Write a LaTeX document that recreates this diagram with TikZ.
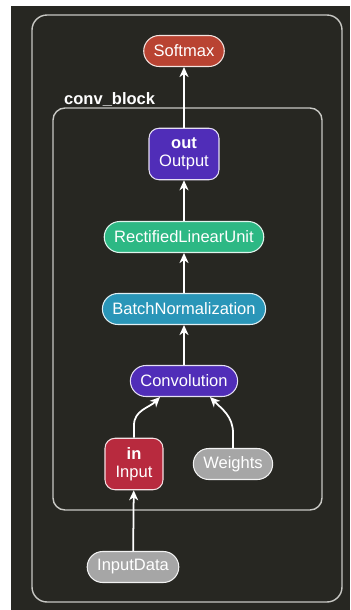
\documentclass[tikz,border=0pt]{standalone}
\usepackage{fontspec}
\setmainfont{Liberation Sans}
\usetikzlibrary{arrows.meta}
\definecolor{slate}{RGB}{39,39,34}
\definecolor{rim}{RGB}{200,200,196}
\definecolor{rust}{RGB}{185,67,50}
\definecolor{violet}{RGB}{80,45,184}
\definecolor{mint}{RGB}{45,184,132}
\definecolor{teal}{RGB}{42,150,184}
\definecolor{crimson}{RGB}{184,42,62}
\definecolor{ash}{RGB}{166,166,166}
\tikzset{
  >={Stealth[length=2mm,width=1.8mm,inset=0.6mm]},
  pill/.style={draw=white!85!#1,line width=0.6pt,fill=#1,text=white,
    rounded corners=0.31cm,minimum height=0.62cm,inner xsep=0.2cm,
    font=\fontsize{9.4}{11}\selectfont},
  pill/.default=ash,
  block/.style={draw=white!85!#1,line width=0.6pt,fill=#1,text=white,
    rounded corners=0.2cm,minimum height=1.03cm,align=center,
    font=\fontsize{9.4}{10.4}\selectfont},
  flow/.style={->,line width=1pt,draw=white},
  frame/.style={draw=rim,line width=0.8pt,rounded corners=#1},
  tag/.style={font=\fontsize{9.4}{11}\selectfont\bfseries,text=white,anchor=west},
}
\begin{document}
\begin{tikzpicture}
  \fill[white] (0,0) rectangle (7,-12.2);
  \fill[slate] (0.22,-0.12) rectangle (7,-12.2);
  % frames
  \draw[frame=0.3cm] (0.64,-0.3) rectangle (6.84,-12.04);
  \draw[frame=0.24cm] (1.06,-2.16) rectangle (6.44,-10.2);
  \node[tag] (lbl) at (1.16,-2.0) {conv\_block};
  % nodes
  \node[pill=rust] (soft) at (3.68,-1.02) {Softmax};
  \node[block=violet,minimum width=1.4cm] (out) at (3.68,-3.08) {\textbf{out}\\Output};
  \node[pill=mint] (relu) at (3.68,-4.74) {RectifiedLinearUnit};
  \node[pill=teal] (bn) at (3.68,-6.18) {BatchNormalization};
  \node[pill=violet] (conv) at (3.68,-7.62) {Convolution};
  \node[block=crimson,minimum width=1.16cm] (in) at (2.68,-9.28) {\textbf{in}\\Input};
  \node[pill] (wts) at (4.66,-9.28) {Weights};
  \node[pill] (data) at (2.66,-11.34) {InputData};
  % connectors
  \draw[flow] (data) -- (in);
  \draw[flow] (in.north) -- ++(0,0.25) to[out=90,in=-135] ([xshift=-0.48cm]conv.south);
  \draw[flow] (wts.north) -- ++(0,0.3) to[out=90,in=-45] ([xshift=0.52cm]conv.south);
  \draw[flow] (conv) -- (bn);
  \draw[flow] (bn) -- (relu);
  \draw[flow] (relu) -- (out);
  \draw[flow] (out) -- (soft);
\end{tikzpicture}
\end{document}
